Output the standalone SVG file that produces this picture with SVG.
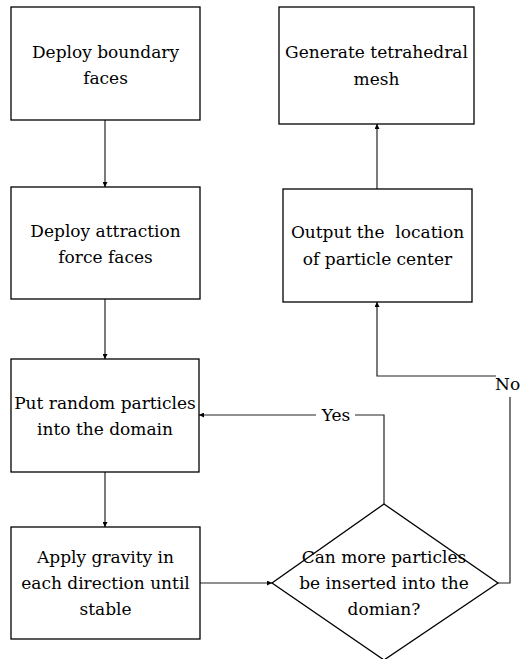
<svg xmlns="http://www.w3.org/2000/svg" width="520" height="659" viewBox="0 0 520 659">
<style>
.box{fill:#fff;stroke:#000;stroke-width:1.3}
.t{font-family:'DejaVu Serif',serif;font-size:17px;fill:#000;text-anchor:middle}
.c{fill:none;stroke:#222;stroke-width:1.2}
</style>
<defs>
<marker id="ah" viewBox="0 0 10 10" refX="10" refY="5" markerWidth="5" markerHeight="5" orient="auto" markerUnits="userSpaceOnUse">
<path d="M0,0 L10,5 L0,10 z" fill="#000"/>
</marker>
</defs>
<rect width="520" height="659" fill="#fff"/>
<g id="connectors">
<line class="c" x1="105" y1="120" x2="105" y2="187" marker-end="url(#ah)"/>
<line class="c" x1="105" y1="299" x2="105" y2="359" marker-end="url(#ah)"/>
<line class="c" x1="105" y1="472" x2="105" y2="527" marker-end="url(#ah)"/>
<line class="c" x1="200" y1="583" x2="272" y2="583" marker-end="url(#ah)"/>
<polyline class="c" points="384,504 384,415 355,415"/>
<line class="c" x1="316" y1="415" x2="199" y2="415" marker-end="url(#ah)"/>
<polyline class="c" points="498,583 510,583 510,397"/>
<polyline class="c" points="496,376 377,376 377,302" marker-end="url(#ah)"/>
<line class="c" x1="377" y1="189" x2="377" y2="124" marker-end="url(#ah)" stroke="#555" stroke-width="1.6"/>
<text class="t" x="336" y="421">Yes</text>
<text class="t" x="495" y="390" style="text-anchor:start">No</text>
</g>
<g id="n1">
<rect class="box" x="11" y="7" width="189" height="113"/>
<text class="t" x="105.5" y="58">Deploy boundary</text>
<text class="t" x="105.5" y="84">faces</text>
</g>
<g id="n2">
<rect class="box" x="11" y="187" width="189" height="112"/>
<text class="t" x="105.5" y="237">Deploy attraction</text>
<text class="t" x="105.5" y="263">force faces</text>
</g>
<g id="n3">
<rect class="box" x="11" y="359" width="188" height="113"/>
<text class="t" x="105" y="409">Put random particles</text>
<text class="t" x="105" y="435">into the domain</text>
</g>
<g id="n4">
<rect class="box" x="11" y="527" width="189" height="112"/>
<text class="t" x="105.5" y="563">Apply gravity in</text>
<text class="t" x="105.5" y="589">each direction until</text>
<text class="t" x="105.5" y="615">stable</text>
</g>
<g id="n5">
<polygon class="box" points="384,504 498,583 384,660 272,583" style="fill:none"/>
<text class="t" x="384" y="563">Can more particles</text>
<text class="t" x="384" y="589">be inserted into the</text>
<text class="t" x="384" y="615">domian?</text>
</g>
<g id="n6">
<rect class="box" x="283" y="189" width="189" height="113"/>
<text class="t" x="377.5" y="238" xml:space="preserve">Output the  location</text>
<text class="t" x="377.5" y="265">of particle center</text>
</g>
<g id="n7">
<rect class="box" x="279" y="7" width="195" height="117"/>
<text class="t" x="376.5" y="58">Generate tetrahedral</text>
<text class="t" x="376.5" y="85">mesh</text>
</g>
</svg>
